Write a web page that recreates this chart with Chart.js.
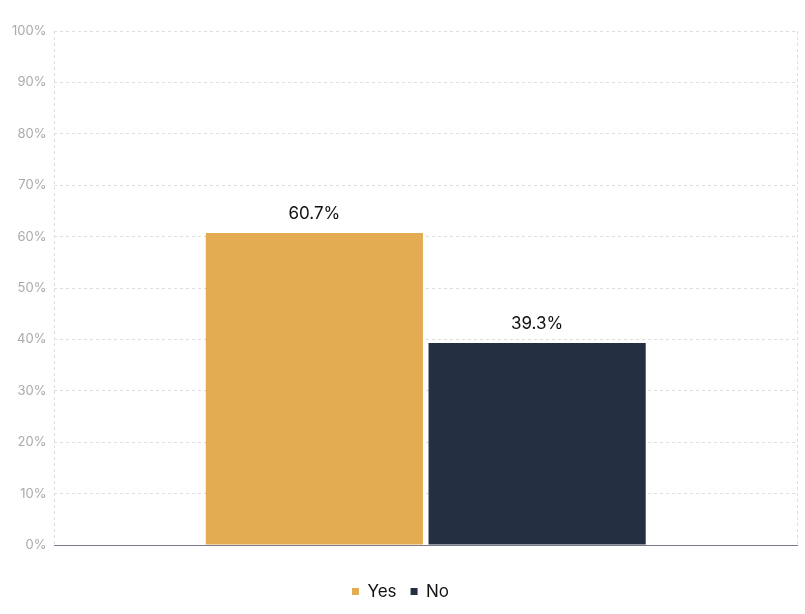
<!DOCTYPE html>
<html>
<head>
  <meta charset="utf-8">
  <title>Yes / No</title>
  <script src="https://cdn.jsdelivr.net/npm/chart.js"></script>
  <style>
    body { margin: 0; background: #fff; }
    #wrap { width: 805px; height: 614px; }
  </style>
</head>
<body>
  <div id="wrap"><canvas id="chart"></canvas></div>
  <script>
    const categories = [''];
    const seriesNames = ['Yes', 'No'];
    const yesValues = [60.7];
    const noValues = [39.3];
    const yTicks = [0, 10, 20, 30, 40, 50, 60, 70, 80, 90, 100];

    const colors = ['#e3ab52', '#243041'];

    // draws the value above each bar
    const valueLabels = {
      id: 'valueLabels',
      afterDatasetsDraw(chart) {
        const ctx = chart.ctx;
        ctx.save();
        ctx.font = '17px Inter';
        ctx.fillStyle = '#111';
        ctx.textAlign = 'center';
        ctx.textBaseline = 'bottom';
        chart.data.datasets.forEach((ds, i) => {
          chart.getDatasetMeta(i).data.forEach((bar, j) => {
            ctx.fillText(ds.data[j].toFixed(1) + '%', bar.x, bar.y - 11);
          });
        });
        ctx.restore();
      }
    };

    Chart.defaults.font.family = 'Inter';

    new Chart(document.getElementById('chart'), {
      type: 'bar',
      data: {
        labels: categories,
        datasets: [
          { label: seriesNames[0], data: yesValues, backgroundColor: colors[0] },
          { label: seriesNames[1], data: noValues, backgroundColor: colors[1] }
        ]
      },
      options: {
        responsive: true,
        maintainAspectRatio: false,
        animation: false,
        layout: { padding: { top: 31, right: 8, left: 4, bottom: 4 } },
        datasets: { bar: { categoryPercentage: 0.6, barPercentage: 0.975 } },
        plugins: {
          legend: {
            position: 'bottom',
            labels: {
              boxWidth: 7, boxHeight: 7, padding: 14,
              color: '#111', font: { size: 17 }
            }
          },
          tooltip: { enabled: false }
        },
        scales: {
          x: {
            afterFit: scale => { scale.height += 24; },
            grid: { color: '#dddddd', drawTicks: false },
            border: { display: true, color: '#7a7a8c', width: 1, dash: [3, 3] },
            ticks: { display: false }
          },
          y: {
            min: 0, max: 100,
            afterBuildTicks: axis => { axis.ticks = yTicks.map(v => ({ value: v })); },
            grid: { color: '#dddddd', drawTicks: false },
            border: { display: false, dash: [3, 3] },
            ticks: {
              color: '#aaaaaa', font: { size: 13 }, padding: 8,
              callback: v => v + '%'
            }
          }
        }
      },
      plugins: [valueLabels]
    });
  </script>
</body>
</html>
